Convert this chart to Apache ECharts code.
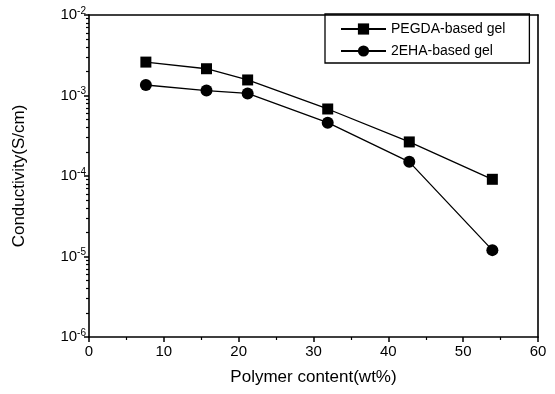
<!DOCTYPE html>
<html>
<head>
<meta charset="utf-8">
<script src="https://cdn.jsdelivr.net/npm/echarts@6/dist/echarts.min.js"></script>
<style>
  html, body { margin: 0; padding: 0; background: #fff; }
  #chart { width: 555px; height: 394px; }
</style>
</head>
<body>
<div id="chart"></div>
<script>
// Polymer content (wt%) for each gel sample
const polymerContent = [7.6, 15.7, 21.2, 31.9, 42.8, 53.9];
// Ionic conductivity (S/cm)
const pegdaConductivity = [2.6e-3, 2.15e-3, 1.56e-3, 6.8e-4, 2.65e-4, 9.1e-5];
const ehaConductivity = [1.35e-3, 1.15e-3, 1.06e-3, 4.6e-4, 1.5e-4, 1.2e-5];
const seriesNames = ['PEGDA-based gel', '2EHA-based gel'];
// Decade tick labels on the log axis
const yDecades = [1e-6, 1e-5, 1e-4, 1e-3, 1e-2];

// Minor tick positions 2..9 within each decade
const yMinor = [];
for (let i = 0; i < yDecades.length - 1; i++) {
  for (let m = 2; m <= 9; m++) yMinor.push(yDecades[i] * m);
}

const FONT = '"Liberation Sans", Arial, sans-serif';
const pair = (xs, ys) => xs.map((x, i) => [x, ys[i]]);
const frameLine = () => ({ show: true, onZero: false, lineStyle: { color: '#000', width: 1.6 } });
const off = () => ({ show: false });

const chart = echarts.init(document.getElementById('chart'), null, { renderer: 'canvas' });
chart.setOption({
  animation: false,
  backgroundColor: '#fff',
  textStyle: { fontFamily: FONT, color: '#000' },
  grid: { left: 89, right: 17, top: 15, bottom: 57 },
  legend: {
    left: 325, top: 14,
    orient: 'vertical',
    itemWidth: 45, itemHeight: 14, itemGap: 8,
    padding: [8, 24, 5, 15],
    borderColor: '#000', borderWidth: 1.3,
    textStyle: { fontFamily: FONT, fontSize: 14, color: '#000' },
    data: seriesNames
  },
  xAxis: [
    {
      type: 'value', min: 0, max: 60, interval: 10, position: 'bottom',
      axisLine: frameLine(),
      axisTick: { show: true, inside: false, length: 5, lineStyle: { color: '#000', width: 1.5 } },
      minorTick: { show: true, splitNumber: 2, length: 3, lineStyle: { color: '#000', width: 1.2 } },
      splitLine: off(),
      axisLabel: { fontFamily: FONT, fontSize: 15, color: '#000', margin: 7 },
      name: 'Polymer content(wt%)',
      nameLocation: 'middle', nameGap: 32,
      nameTextStyle: { fontFamily: FONT, fontSize: 17, color: '#000' }
    },
    {
      type: 'value', min: 0, max: 60, position: 'top',
      axisLine: frameLine(), axisTick: off(), axisLabel: off(), splitLine: off()
    }
  ],
  yAxis: [
    {
      type: 'log', logBase: 10, min: 1e-6, max: 1e-2, position: 'left',
      axisLine: frameLine(),
      axisTick: { show: true, inside: false, length: 5, lineStyle: { color: '#000', width: 1.5 } },
      splitLine: off(),
      axisLabel: {
        margin: 3,
        formatter: v => '{b|10}{s|' + Math.round(Math.log10(v)) + '}',
        rich: {
          b: { fontFamily: FONT, fontSize: 15, color: '#000' },
          s: { fontFamily: FONT, fontSize: 10, color: '#000', verticalAlign: 'top', padding: [0, 0, 8, 0] }
        }
      },
      name: 'Conductivity(S/cm)',
      nameLocation: 'middle', nameGap: 61, nameRotate: 90,
      nameTextStyle: { fontFamily: FONT, fontSize: 17, color: '#000' }
    },
    {
      type: 'log', logBase: 10, min: 1e-6, max: 1e-2, position: 'right',
      axisLine: frameLine(), axisTick: off(), axisLabel: off(), splitLine: off()
    },
    {
      // minor ticks at 2..9 of every decade
      type: 'log', logBase: 10, min: 1e-6, max: 1e-2, position: 'left',
      axisLine: off(),
      axisTick: { show: true, inside: false, length: 3, customValues: yMinor, lineStyle: { color: '#000', width: 1.2 } },
      axisLabel: off(), splitLine: off()
    }
  ],
  series: [
    {
      name: seriesNames[0], type: 'line',
      data: pair(polymerContent, pegdaConductivity),
      symbol: 'rect', symbolSize: 11,
      lineStyle: { color: '#000', width: 1.3 },
      itemStyle: { color: '#000' }
    },
    {
      name: seriesNames[1], type: 'line',
      data: pair(polymerContent, ehaConductivity),
      symbol: 'circle', symbolSize: 12,
      lineStyle: { color: '#000', width: 1.3 },
      itemStyle: { color: '#000' }
    }
  ]
});
</script>
</body>
</html>
